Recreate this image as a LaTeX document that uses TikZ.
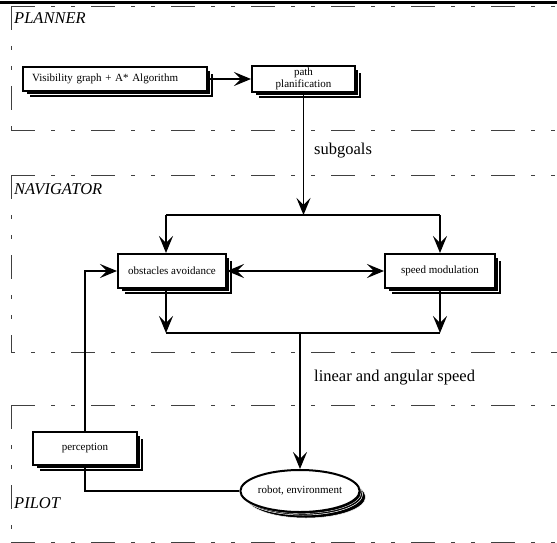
\documentclass[tikz,border=0pt]{standalone}
\usepackage{fontspec}
\setmainfont{Liberation Serif}
\usetikzlibrary{arrows.meta, positioning, shapes.geometric, shadows}

\begin{document}
\begin{tikzpicture}[
  x=1pt, y=-1pt,
  frame/.style={draw=black!75, line width=0.8pt,
                dash pattern=on 24pt off 16pt on 4pt off 16pt on 4pt off 16pt},
  box/.style={draw, line width=2pt, fill=white, inner sep=2pt,
              minimum height=24pt, align=center,
              font=\fontsize{11}{12}\selectfont,
              double copy shadow={shadow xshift=3pt, shadow yshift=-3pt,
                                  fill=black, draw=white, line width=0.5pt}},
  region/.style={font=\fontsize{16.5}{18}\selectfont\itshape, inner sep=0pt, anchor=west},
  lbl/.style={font=\fontsize{16.5}{18}\selectfont, inner sep=0pt, anchor=west},
  line/.style={line width=1.6pt},
  arr/.style={line, -{Stealth[length=17pt, width=14pt, inset=7pt]}},
  dblarr/.style={line, {Stealth[length=17pt, width=14pt, inset=7pt]}-{Stealth[length=17pt, width=14pt, inset=7pt]}}
]
  \useasboundingbox (0,0) rectangle (557,543);

  % Layer frames
  \draw[line width=2.5pt] (0,2.5) -- (557,2.5);
  \draw[frame] (11,6) -- (557,6);
  \draw[frame] (11,6) -- (11,130);
  \draw[frame] (11,130) -- (557,130);

  \draw[frame] (11,175) -- (557,175);
  \draw[frame] (11,175) -- (11,352);
  \draw[frame, dash phase=20pt] (11,352) -- (557,352);

  \draw[frame] (11,405) -- (557,405);
  \draw[frame] (11,405) -- (11,542);
  \draw[frame] (11,542) -- (557,542);

  \node[region] (planner) at (14,18) {PLANNER};
  \node[region] (navigator) at (14,189) {NAVIGATOR};
  \node[region] (pilot) at (14,503) {PILOT};

  % Planner
  \node[box, text width=166pt, inner xsep=9pt, align=left] (vis) at (115,79)
    {Visibility graph + A* Algorithm};
  \node[box, minimum width=103pt, right=43pt of vis] (path) {path\\planification};

  % Navigator
  \node[box, minimum width=108pt, minimum height=34pt] (obst) at (172,271) {obstacles avoidance};
  \node[box, minimum width=110pt, minimum height=34pt, right=157pt of obst] (speed) {speed modulation};

  % Pilot
  \node[box, minimum width=104pt, minimum height=33pt] (perc) at (85,448.5) {perception};
  \node[box, ellipse, minimum width=100pt, minimum height=42pt, inner sep=0pt,
        double copy shadow={shadow xshift=1.5pt, shadow yshift=-1.5pt,
                            fill=black, draw=white, line width=0.4pt}]
    (robot) at (300,491) {robot, environment};

  \node[lbl] (subgoals) at (314,151) {subgoals};
  \node[lbl] (speedlbl) at (314,378) {linear and angular speed};

  % Connectors
  \coordinate (forkL) at (166,215);
  \coordinate (forkR) at (speed.north |- forkL);
  \coordinate (joinL) at (166,333);
  \coordinate (joinR) at (speed.south |- joinL);

  \draw[arr] (vis) -- (path);
  \draw[arr] (path.south) -- (path.south |- forkL);
  \draw[line] (forkL) -- (forkR);
  \draw[arr] (forkL) -- (forkL |- obst.north);
  \draw[arr] (forkR) -- (speed.north);

  \draw[dblarr] (obst) -- (speed);

  \draw[arr] (obst.south -| joinL) -- (joinL);
  \draw[arr] (speed.south) -- (joinR);
  \draw[line] (joinL) -- (joinR);
  \draw[arr] (robot.north |- joinL) -- (robot.north);

  \draw[arr] (perc.north) |- (obst.west);
  \draw[line] (perc.south) |- (robot.west);
\end{tikzpicture}
\end{document}
